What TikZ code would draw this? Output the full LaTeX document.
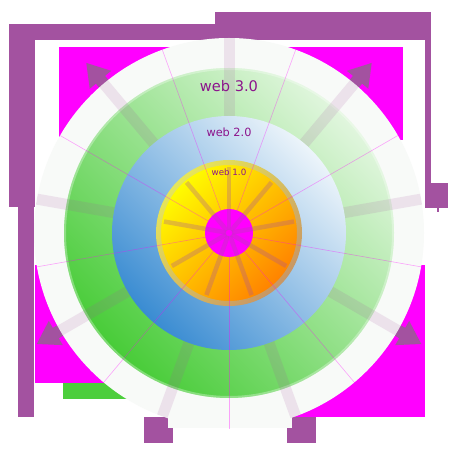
\documentclass[tikz,border=0pt]{standalone}
\usepackage{fontspec}
\newfontfamily\labelfont{DejaVu Sans}
\usetikzlibrary{calc}
\definecolor{framepurple}{RGB}{163,82,160}
\definecolor{hotmagenta}{RGB}{255,0,255}
\definecolor{ringwhite}{RGB}{248,250,248}
\definecolor{labelpurple}{RGB}{140,20,140}
\definecolor{greendark}{RGB}{72,204,56}
\definecolor{greenmid}{RGB}{112,214,98}
\definecolor{greenlight}{RGB}{225,246,222}
\definecolor{bluedark}{RGB}{58,140,210}
\definecolor{bluelight}{RGB}{236,244,250}
\definecolor{rimyellow}{RGB}{230,230,90}
\definecolor{rimtan}{RGB}{200,150,100}
\definecolor{patchgreen}{RGB}{76,206,60}
\tikzset{
    % Thick purple frame, arrows and stubs
    frame fill/.style={fill=framepurple},
%
    % Bright corner patches behind the rings
    corner fill/.style={fill=hotmagenta},
%
    % Light bars running out through the outer rings
    ring spoke/.style={draw=framepurple, draw opacity=0.14, line width=11pt},
%
    % Darker bars inside web 1.0
    core spoke/.style={draw=framepurple, draw opacity=0.3, line width=4.5pt},
%
    % Thin radial guide lines
    guide line/.style={draw=hotmagenta, draw opacity=0.35, line width=0.6pt},
%
    % Ring labels
    ring label/.style={text=labelpurple, inner sep=0pt}}

\begin{document}
\begin{tikzpicture}[x=1pt,y=1pt]

\useasboundingbox (0,0) rectangle (460,455);
\coordinate (ctr) at (229,222);

% Purple frame
\path [frame fill] (215,430) rectangle (431,443);
\path [frame fill] (9,415) rectangle (431,431);
\path [frame fill] (424,272) rectangle (431,443);
\path [frame fill] (424,247) rectangle (448,272);
\path [frame fill] (437,243) rectangle (439,247);
\path [frame fill] (9,248) rectangle (35,431);
\path [frame fill] (18,38) rectangle (34,248);

% Background and corner patches
\fill [white] (35,38) rectangle (425,415);
\path [corner fill] (59,315) rectangle (403,408);
\path [corner fill] (35,72) rectangle (229,190);
\path [corner fill] (229,38) rectangle (425,190);
\fill [patchgreen] (63,56) rectangle (229,72);

% Arrows and the cut-off stubs
\foreach \a in {50,130,210,330}
    \path [frame fill, shift={(ctr)}, rotate=\a]
        (185,-6) -- (200,-6) -- (200,-14) -- (222,0)
        -- (200,14) -- (200,6) -- (185,6) -- cycle;
\path [frame fill] (144,12) rectangle (173,38);
\path [frame fill] (287,12) rectangle (316,38);

% Rings
\fill [ringwhite] (ctr) circle (195);
\fill [ringwhite] (168,27) rectangle (292,38);
\shade [top color=greenlight, middle color=greenmid, bottom color=greendark,
    shading angle=-45]
    (ctr) circle (165);
\draw [white, draw opacity=0.3, line width=2pt] (ctr) circle (164);
\foreach \a in {10,50,...,330}
    \draw [ring spoke] ($(ctr)+(\a:117)$) -- ($(ctr)+(\a:195)$);
\shade [top color=bluelight, bottom color=bluedark, shading angle=-45]
    (ctr) circle (117);
\shade [top color=yellow, bottom color=orange, shading angle=45]
    (ctr) circle (72);
\shade [top color=rimyellow, bottom color=rimtan, shading angle=45, even odd rule]
    (ctr) circle (73) (ctr) circle (68);
\fill [hotmagenta] (ctr) circle (24);
\foreach \a in {10,50,...,330}
    \draw [core spoke] ($(ctr)+(\a:3)$) -- ($(ctr)+(\a:66)$);
\foreach \a in {30,70,...,350}
    \draw [guide line] (ctr) -- ($(ctr)+(\a:196)$);

% Labels
\node [ring label, font=\labelfont\fontsize{14.6}{16}\selectfont] (web3)
    at (229,369) {web 3.0};
\node [ring label, font=\labelfont\fontsize{11.3}{13}\selectfont] (web2)
    at (229,323) {web 2.0};
\node [ring label, font=\labelfont\fontsize{8.7}{10}\selectfont] (web1)
    at (229,283) {web 1.0};

\end{tikzpicture}
\end{document}
